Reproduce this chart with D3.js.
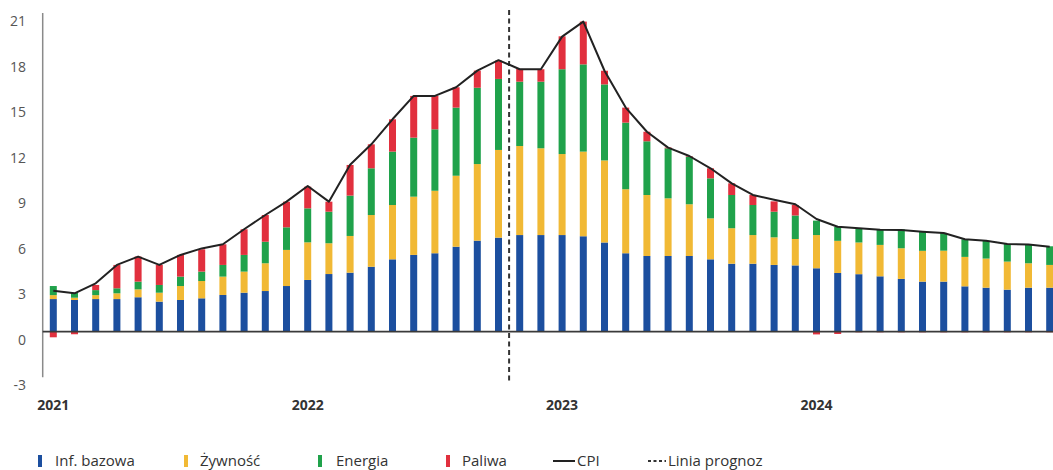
<!DOCTYPE html>
<html>
<head>
<meta charset="utf-8">
<script src="https://cdn.jsdelivr.net/npm/d3@7"></script>
<style>
  body { margin: 0; background: #fff; }
  svg { display: block; font-family: "Open Sans", "Noto Sans", sans-serif; }
</style>
</head>
<body>
<svg id="chart" width="1053" height="470"></svg>
<script>
// monthly data, Jan 2021 - Dec 2024 (forecast after Oct 2022)
var months = [];
[2021, 2022, 2023, 2024].forEach(function(y) {
  for (var m = 1; m <= 12; m++) months.push(y + '-' + (m < 10 ? '0' + m : m));
});

var base   = [2.15, 2.09, 2.15, 2.15, 2.27, 1.98, 2.09, 2.20, 2.42, 2.57, 2.68, 3.01,
              3.41, 3.80, 3.89, 4.28, 4.77, 5.06, 5.17, 5.60, 6.00, 6.20, 6.37, 6.37,
              6.37, 6.29, 5.88, 5.17, 4.99, 4.99, 4.99, 4.77, 4.48, 4.48, 4.40, 4.37,
              4.18, 3.87, 3.79, 3.65, 3.48, 3.30, 3.30, 2.99, 2.90, 2.77, 2.90, 2.90];
var food   = [0.26, 0.15, 0.26, 0.38, 0.52, 0.59, 0.92, 1.14, 1.21, 1.39, 1.83, 2.38,
              2.48, 2.03, 2.42, 3.41, 3.58, 3.84, 4.12, 4.68, 5.05, 5.78, 5.87, 5.72,
              5.34, 5.58, 5.41, 4.22, 4.02, 3.80, 3.41, 2.70, 2.34, 1.89, 1.82, 1.74,
              2.19, 2.12, 2.09, 2.07, 2.02, 2.03, 2.04, 1.94, 1.92, 1.85, 1.61, 1.50];
var energy = [0.60, 0.33, 0.33, 0.33, 0.51, 0.51, 0.62, 0.62, 0.77, 1.10, 1.42, 1.49,
              2.24, 2.08, 2.66, 3.08, 3.52, 3.89, 4.05, 4.49, 5.03, 4.68, 4.24, 4.39,
              5.59, 5.75, 5.01, 4.39, 3.54, 3.30, 3.14, 2.64, 2.19, 1.98, 1.69, 1.55,
              0.95, 0.92, 0.92, 0.99, 1.25, 1.26, 1.17, 1.16, 1.16, 1.16, 1.24, 1.23];
var fuel   = [-0.37, -0.17, 0.34, 1.54, 1.65, 1.32, 1.43, 1.47, 1.36, 1.69, 1.76, 1.69,
              1.43, 0.66, 2.02, 1.58, 2.13, 2.75, 2.20, 1.34, 1.13, 1.21, 0.84, 0.82,
              2.17, 2.82, 0.90, 0.99, 0.63, 0.05, 0.04, 0.66, 0.77, 0.66, 0.68, 0.69,
              -0.18, -0.15, -0.04, -0.04, -0.04, -0.04, -0.04, -0.04, -0.04, -0.04, -0.04, -0.04];
var cpi    = [2.70, 2.53, 3.19, 4.40, 4.95, 4.40, 5.06, 5.49, 5.76, 6.75, 7.69, 8.57,
              9.60, 8.57, 11.0, 12.35, 14.0, 15.54, 15.54, 16.11, 17.21, 17.9, 17.3, 17.3,
              19.45, 20.44, 17.2, 14.77, 13.18, 12.13, 11.58, 10.77, 9.78, 9.01, 8.70, 8.40,
              7.43, 6.92, 6.82, 6.72, 6.70, 6.59, 6.50, 6.09, 6.00, 5.78, 5.75, 5.60];

var yTicks = [-3, 0, 3, 6, 9, 12, 15, 18, 21];
var yearLabels = ['2021', '2022', '2023', '2024'];
var forecastStart = '2022-10';

var seriesKeys = ['base', 'food', 'energy', 'fuel'];
var seriesNames = ['Inf. bazowa', 'Żywność', 'Energia', 'Paliwa'];
var colors = ['#1c4f9f', '#f1b935', '#20a24b', '#e1303e'];

var rows = months.map(function(m, i) {
  return { month: m, base: base[i], food: food[i], energy: energy[i], fuel: fuel[i], cpi: cpi[i] };
});

var svg = d3.select('#chart');

var x = d3.scalePoint().domain(months).range([53.3, 1049.7]);
var y = d3.scaleLinear().domain([-3, 21]).range([377.2, 13.1]);
var barW = 7;

var stack = d3.stack().keys(seriesKeys).offset(d3.stackOffsetDiverging);
var stacked = stack(rows);

// y axis line
svg.append('line')
  .attr('x1', 42.7).attr('x2', 42.7)
  .attr('y1', y(21)).attr('y2', y(-3))
  .attr('stroke', '#8a8a8a').attr('stroke-width', 1.5);

// y tick labels (hang slightly below their value)
svg.append('g').selectAll('text')
  .data(yTicks).enter()
  .append('text')
  .attr('x', 26)
  .attr('y', function(d) { return y(d) + 8; })
  .attr('dy', '0.35em')
  .attr('text-anchor', 'end')
  .attr('font-size', 14)
  .attr('fill', '#555')
  .text(function(d) { return d; });

// bars
svg.append('g').selectAll('g')
  .data(stacked).enter()
  .append('g')
  .attr('fill', function(d, i) { return colors[i]; })
  .selectAll('rect')
  .data(function(d) { return d; }).enter()
  .append('rect')
  .attr('x', function(d) { return x(d.data.month) - barW / 2; })
  .attr('width', barW)
  .attr('y', function(d) { return y(Math.max(d[0], d[1])); })
  .attr('height', function(d) { return Math.abs(y(d[0]) - y(d[1])); });

// zero line
svg.append('line')
  .attr('x1', 42.7).attr('x2', 1053)
  .attr('y1', y(0)).attr('y2', y(0))
  .attr('stroke', '#3a3a3a').attr('stroke-width', 1.8);

// forecast line, halfway between Oct and Nov 2022
var fi = months.indexOf(forecastStart);
var fx = (x(months[fi]) + x(months[fi + 1])) / 2;
svg.append('line')
  .attr('x1', fx).attr('x2', fx)
  .attr('y1', 10).attr('y2', 381)
  .attr('stroke', '#333').attr('stroke-width', 2)
  .attr('stroke-dasharray', '5,3.5');

// CPI line
var line = d3.line()
  .x(function(d) { return x(d.month); })
  .y(function(d) { return y(d.cpi); });
svg.append('path')
  .datum(rows)
  .attr('fill', 'none')
  .attr('stroke', '#222')
  .attr('stroke-width', 2)
  .attr('stroke-linejoin', 'round')
  .attr('d', line);

// year labels under January
svg.append('g').selectAll('text')
  .data(yearLabels).enter()
  .append('text')
  .attr('x', function(d) { return x(d + '-01'); })
  .attr('y', 410)
  .attr('text-anchor', 'middle')
  .attr('font-size', 14)
  .attr('font-weight', 'bold')
  .attr('fill', '#333')
  .text(function(d) { return d; });

// legend
var legend = svg.append('g').attr('font-size', 15).attr('fill', '#333');
var swatchX = [38, 184, 318, 446];
var textX = [55, 200, 336, 462];
seriesNames.forEach(function(name, i) {
  legend.append('rect')
    .attr('x', swatchX[i]).attr('y', 455)
    .attr('width', 4).attr('height', 12)
    .attr('fill', colors[i]);
  legend.append('text')
    .attr('x', textX[i]).attr('y', 466)
    .text(name);
});
legend.append('line')
  .attr('x1', 553).attr('x2', 575).attr('y1', 461).attr('y2', 461)
  .attr('stroke', '#222').attr('stroke-width', 2);
legend.append('text').attr('x', 577).attr('y', 466).text('CPI');
legend.append('line')
  .attr('x1', 648).attr('x2', 666).attr('y1', 461).attr('y2', 461)
  .attr('stroke', '#333').attr('stroke-width', 2)
  .attr('stroke-dasharray', '3,2.5');
legend.append('text').attr('x', 668).attr('y', 466).text('Linia prognoz');
</script>
</body>
</html>
